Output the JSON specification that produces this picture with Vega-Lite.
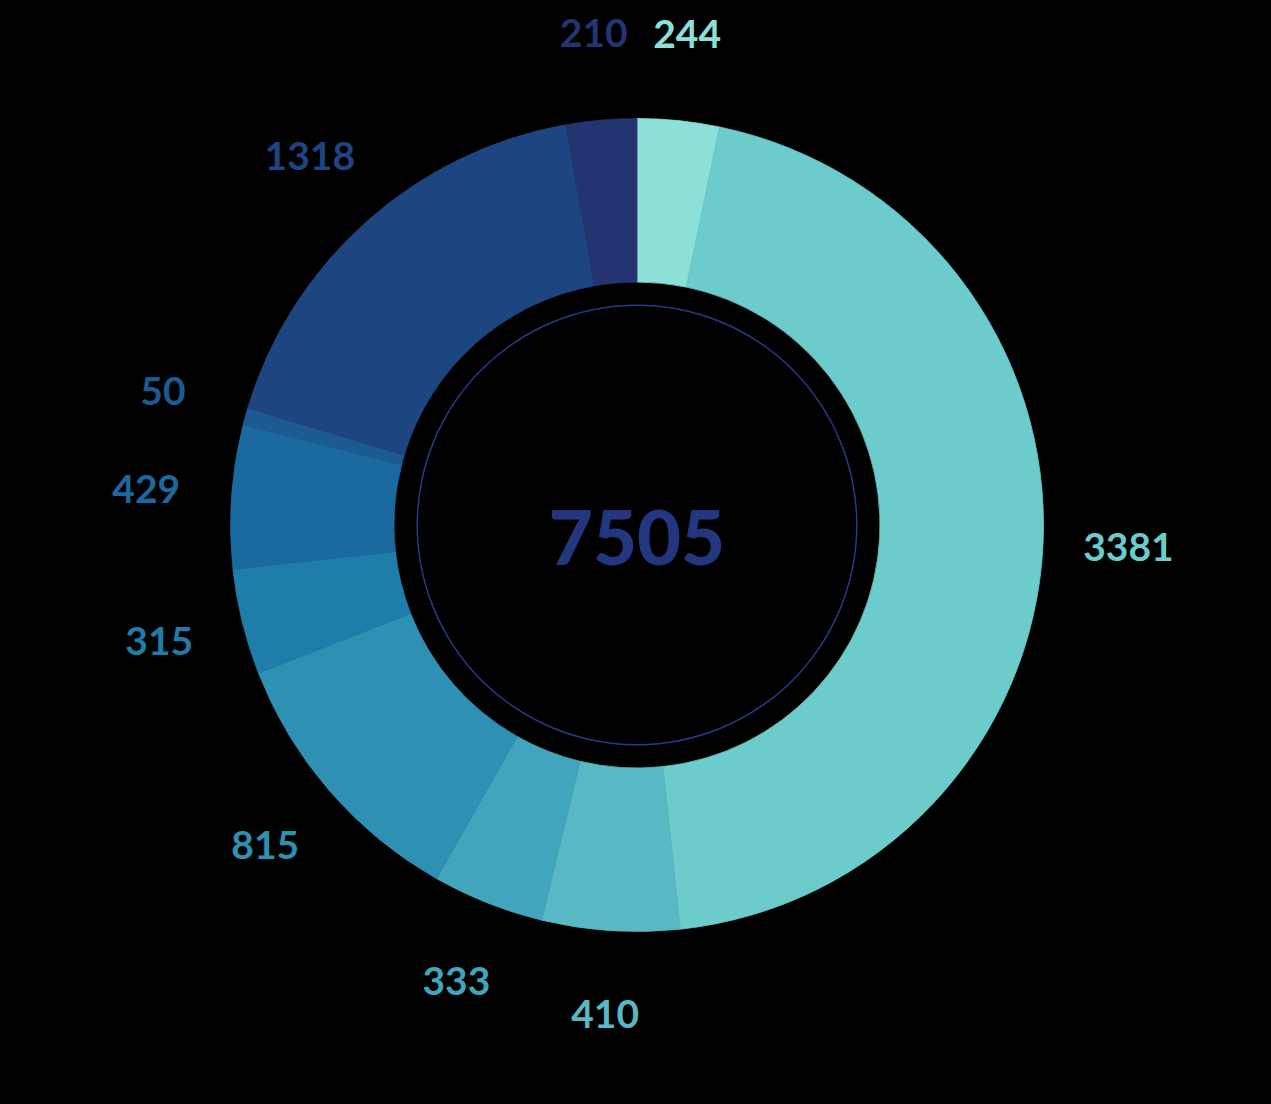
{
  "$schema": "https://vega.github.io/schema/vega-lite/v6.json",
  "width": 1271,
  "height": 1104,
  "autosize": {"type": "fit", "contains": "padding"},
  "padding": {"left": 3, "top": 0, "right": 0, "bottom": 54},
  "background": "#000000",
  "config": {"view": {"stroke": null}},
  "data": {
    "values": [
      {"idx": 1, "label": "244", "value": 244},
      {"idx": 2, "label": "3381", "value": 3381},
      {"idx": 3, "label": "410", "value": 410},
      {"idx": 4, "label": "333", "value": 333},
      {"idx": 5, "label": "815", "value": 815},
      {"idx": 6, "label": "315", "value": 315},
      {"idx": 7, "label": "429", "value": 429},
      {"idx": 8, "label": "50", "value": 50},
      {"idx": 9, "label": "1318", "value": 1318},
      {"idx": 10, "label": "210", "value": 210}
    ]
  },
  "layer": [
    {
      "mark": {"type": "arc", "innerRadius": 243, "outerRadius": 406.5, "strokeWidth": 0.8},
      "encoding": {
        "theta": {"field": "value", "type": "quantitative", "stack": true},
        "order": {"field": "idx", "type": "quantitative"},
        "color": {
          "field": "label", "type": "nominal", "legend": null,
          "scale": {
            "domain": ["244", "3381", "410", "333", "815", "315", "429", "50", "1318", "210"],
            "range": ["#8de0d8", "#6ccbcb", "#58b8c4", "#41a5bd", "#2e91b3", "#1f7daa", "#1a6aa0", "#1b5b92", "#1d4680", "#233571"]
          }
        },
        "stroke": {
          "field": "label", "type": "nominal", "legend": null,
          "scale": {
            "domain": ["244", "3381", "410", "333", "815", "315", "429", "50", "1318", "210"],
            "range": ["#8de0d8", "#6ccbcb", "#58b8c4", "#41a5bd", "#2e91b3", "#1f7daa", "#1a6aa0", "#1b5b92", "#1d4680", "#233571"]
          }
        }
      }
    },
    {
      "mark": {"type": "text", "radius": 492, "fontSize": 39, "font": "Lato", "fontWeight": "bold", "align": "center", "baseline": "middle"},
      "encoding": {
        "theta": {"field": "value", "type": "quantitative", "stack": true},
        "order": {"field": "idx", "type": "quantitative"},
        "text": {"field": "label"},
        "color": {"field": "label", "type": "nominal", "legend": null}
      }
    },
    {
      "data": {"values": [{"total": "7505"}]},
      "mark": {"type": "arc", "theta": 0, "theta2": 6.2832, "radius": 220.5, "radius2": 219, "color": "#2b3a88"},
      "encoding": {}
    },
    {
      "data": {"values": [{"total": "7505"}]},
      "mark": {"type": "text", "fontSize": 76, "font": "Lato", "fontWeight": 900, "color": "#24367f", "align": "center", "baseline": "middle", "dy": 17},
      "encoding": {"text": {"field": "total"}}
    }
  ]
}
